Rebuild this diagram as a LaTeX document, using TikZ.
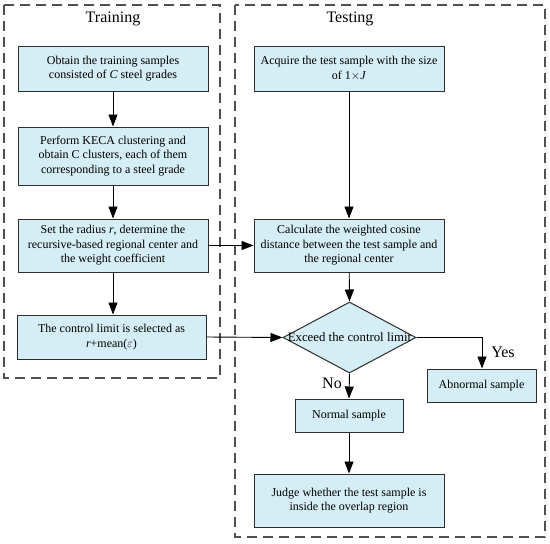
\documentclass[tikz,border=0pt]{standalone}
\usepackage{fontspec}
\setmainfont{Liberation Serif}
\usetikzlibrary{arrows.meta,shapes.geometric}
\definecolor{boxfill}{RGB}{213,237,244}
\definecolor{boxline}{RGB}{45,45,45}
\definecolor{dashc}{RGB}{80,80,80}
\begin{document}
\begin{tikzpicture}[x=1pt,y=-1pt,
  proc/.style={draw=boxline,fill=boxfill,line width=1pt,align=center,font=\fontsize{12}{14.5}\selectfont,inner sep=0pt},
  frame/.style={draw=dashc,line width=1.6pt,dash pattern=on 10pt off 6pt},
  arr/.style={draw=black,line width=0.9pt,-{Triangle[length=12pt,width=9pt]}},
  ttl/.style={font=\fontsize{16}{19}\selectfont},
  lbl/.style={font=\fontsize{16}{19}\selectfont}]
\useasboundingbox (0,0) rectangle (550,544);
% frames
\draw[frame] (4,5) rectangle (220,378);
\draw[frame] (235,5) rectangle (545,537);
\node[ttl] (ttrain) at (113,19) {Training};
\node[ttl] (ttest) at (350,19) {Testing};
% training boxes
\node[proc,minimum width=190pt,minimum height=45pt] (b1) at (113,68.5) {Obtain the training samples\\consisted of \textit{C} steel grades};
\node[proc,minimum width=190pt,minimum height=58pt] (b2) at (113,156) {Perform KECA clustering and\\obtain C clusters, each of them\\corresponding to a steel grade};
\node[proc,minimum width=190pt,minimum height=53pt] (b3) at (113,245.5) {Set the radius \textit{r}, determine the\\recursive-based regional center and\\the weight coefficient};
\node[proc,minimum width=189pt,minimum height=44pt] (b4) at (111.5,337) {The control limit is selected as\\\textit{r}+mean($\varepsilon$)};
% testing boxes
\node[proc,minimum width=190pt,minimum height=45pt] (t1) at (349,68.5) {Acquire the test sample with the size\\of 1$\times$\textit{J}};
\node[proc,minimum width=190pt,minimum height=53pt] (t2) at (349,245.5) {Calculate the weighted cosine\\distance between the test sample and\\the regional center};
\node[diamond,draw=boxline,fill=boxfill,line width=1pt,minimum width=133pt,minimum height=71pt,inner sep=0pt,aspect=1.87] (d) at (349.5,337.5) {};
\node[font=\fontsize{12.8}{14.5}\selectfont] (dtext) at (d.center) {Exceed the control limit};
\node[proc,minimum width=109pt,minimum height=33pt] (ab) at (481.5,385.5) {Abnormal sample};
\node[proc,minimum width=108pt,minimum height=33pt] (ns) at (349,415.5) {Normal sample};
\node[proc,minimum width=190pt,minimum height=53pt] (jd) at (349,500.5) {Judge whether the test sample is\\inside the overlap region};
% arrows
\draw[arr] (b1) -- (b2);
\draw[arr] (b2) -- (b3);
\draw[arr] (b3.south) -- (b3.south |- b4.north);
\draw[arr] (b3.east) -- (t2.west);
\draw[arr] (b4.east) -- (d.west);
\draw[arr] (t1) -- (t2);
\draw[arr] (t2) -- (d.north);
\draw[arr] (d.south) -- (ns.north);
\draw[arr] (ns) -- (jd);
\coordinate (yc) at (482,337.5);
\draw[arr] (d.east) -- (yc) -- (ab.north -| yc);
\node[lbl] (yes) at (503,352) {Yes};
\node[lbl] (no) at (332,383) {No};
\end{tikzpicture}
\end{document}
